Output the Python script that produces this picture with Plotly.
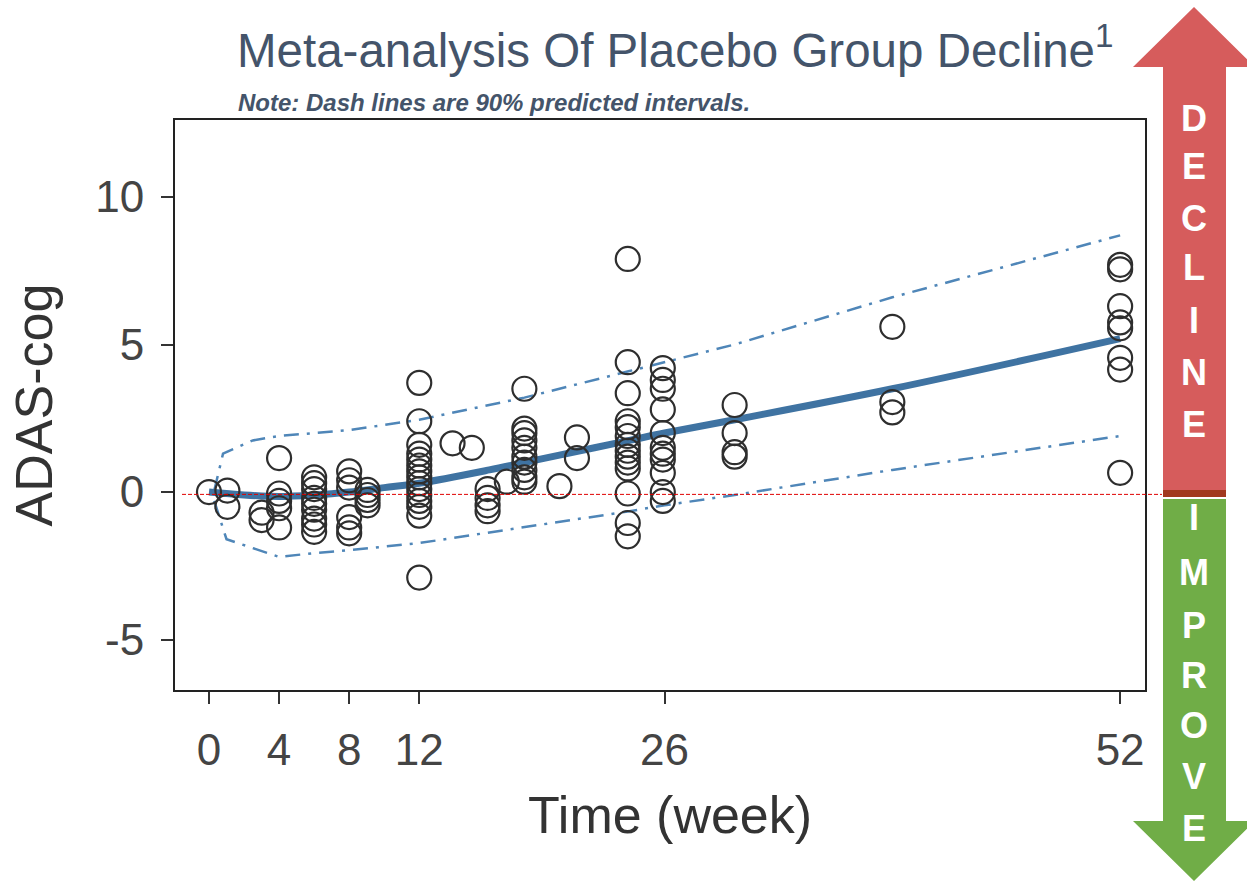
import plotly.graph_objects as go

# ---------------- data ----------------
pt_week = ([0] + [1.05] * 2 + [3] * 2 + [4] * 5 + [6] * 9 + [8] * 6 + [9.05] * 4 +
           [12] * 15 + [13.9, 15.0] + [15.9] * 4 + [17.0] + [18] * 10 + [20.0] +
           [21.0] * 2 + [23.9] * 14 + [25.9] * 11 + [30.0] * 4 + [39.0] * 3 + [52] * 8)
pt_val = ([0.0] +
          [0.05, -0.5] +
          [-0.7, -0.95] +
          [1.15, -0.05, -0.3, -0.55, -1.2] +
          [0.5, 0.3, 0.1, -0.2, -0.4, -0.6, -0.9, -1.1, -1.35] +
          [0.7, 0.4, 0.15, -0.85, -1.2, -1.4] +
          [0.07, -0.1, -0.27, -0.45] +
          [3.7, 2.4, 1.6, 1.3, 1.1, 0.9, 0.7, 0.5, 0.3, 0.1, -0.1, -0.3, -0.5, -0.8, -2.9] +
          [1.65, 1.5] +
          [0.1, -0.2, -0.45, -0.65] +
          [0.35] +
          [3.5, 2.15, 2.0, 1.75, 1.5, 1.2, 1.0, 0.75, 0.5, 0.35] +
          [0.2] +
          [1.85, 1.15] +
          [7.9, 4.4, 3.35, 2.4, 2.2, 1.9, 1.6, 1.4, 1.2, 1.0, 0.8, -0.05, -1.05, -1.5] +
          [4.2, 3.8, 3.5, 2.8, 2.0, 1.5, 1.3, 1.1, 0.65, 0.0, -0.3] +
          [2.95, 2.0, 1.35, 1.2] +
          [5.6, 3.05, 2.7] +
          [7.7, 7.55, 6.3, 5.75, 5.55, 4.55, 4.15, 0.65])

mean_week = [0, 2, 4, 6, 8, 10, 12, 16, 18, 20, 24, 26, 30, 39, 52]
mean_val = [0.0, -0.1, -0.15, -0.1, 0.0, 0.15, 0.3, 0.75, 1.0, 1.25, 1.75, 2.0, 2.45, 3.5, 5.2]

upper_week = [0.3, 0.8, 2.5, 4, 6, 8, 12, 18, 24, 26, 30, 39, 52]
upper_val = [0.05, 1.3, 1.75, 1.9, 2.0, 2.1, 2.45, 3.2, 4.1, 4.4, 5.0, 6.6, 8.7]

lower_week = [0.3, 1, 2.5, 4, 6, 8, 12, 18, 24, 26, 30, 39, 52]
lower_val = [-0.3, -1.6, -1.9, -2.2, -2.07, -1.97, -1.73, -1.2, -0.65, -0.45, -0.1, 0.75, 1.9]

x_ticks = [0, 4, 8, 12, 26, 52]
y_ticks = [-5, 0, 5, 10]
y_tick_text = ["-5", "0", "5", "10"]
baseline_val = -0.08

decline_letters = list("DECLINE")
improve_letters = list("IMPROVE")

# ---------------- layout geometry ----------------
W, H = 1247, 882
ML, MR, MT, MB = 175, 102, 120, 192
PW, PH = W - ML - MR, H - MT - MB


def px(p):
    return (p - ML) / PW


def py(p):
    return 1 - (p - MT) / PH


fig = go.Figure()

fig.add_trace(go.Scatter(x=upper_week, y=upper_val, mode="lines",
                         line=dict(color="#4f86b8", width=2.5, dash="15px,8px,3px,8px"),
                         showlegend=False))
fig.add_trace(go.Scatter(x=lower_week, y=lower_val, mode="lines",
                         line=dict(color="#4f86b8", width=2.5, dash="15px,8px,3px,8px"),
                         showlegend=False))
fig.add_trace(go.Scatter(x=mean_week, y=mean_val, mode="lines", line_shape="spline",
                         line=dict(color="#3f73a2", width=7), showlegend=False))
fig.add_trace(go.Scatter(x=pt_week, y=pt_val, mode="markers",
                         marker=dict(symbol="circle-open", size=24, color="#2e2e2e",
                                     line=dict(width=2.2, color="#2e2e2e")),
                         showlegend=False))

axis_common = dict(showline=True, linecolor="#222", linewidth=2, mirror=True,
                   ticks="outside", ticklen=12, tickwidth=2, tickcolor="#333",
                   showgrid=False, zeroline=False, ticklabelstandoff=8,
                   tickfont=dict(family="Liberation Sans, Arial", size=44, color="#444"))

fig.update_xaxes(range=[-1.94, 53.42], tickvals=x_ticks, **axis_common)
fig.update_yaxes(range=[-6.71, 12.61], tickvals=y_ticks, ticktext=y_tick_text, **axis_common,
                 title=dict(text="ADAS-cog", standoff=26,
                            font=dict(family="Liberation Sans, Arial", size=52, color="#333")))

shapes = []
# red baseline
shapes.append(dict(type="line", xref="paper", yref="y", x0=px(182), x1=px(1162),
                   y0=baseline_val, y1=baseline_val,
                   line=dict(color="#e00000", width=1, dash="4px,2px")))


def path(points):
    s = "M " + " L ".join(f"{px(a):.5f},{py(b):.5f}" for a, b in points) + " Z"
    return s


red_pts = [(1163, 491), (1163, 67), (1133, 67), (1194, 7), (1255, 67), (1226, 67), (1226, 491)]
green_pts = [(1163, 499), (1163, 821), (1133, 821), (1194, 881), (1255, 821), (1226, 821), (1226, 499)]
shapes.append(dict(type="path", xref="paper", yref="paper", path=path(red_pts),
                   fillcolor="#d65c5c", line=dict(width=0), layer="above"))
shapes.append(dict(type="path", xref="paper", yref="paper", path=path(green_pts),
                   fillcolor="#70ad47", line=dict(width=0), layer="above"))
shapes.append(dict(type="rect", xref="paper", yref="paper", x0=px(1163), x1=px(1226),
                   y0=py(497), y1=py(490), fillcolor="#a2391f", line=dict(width=0),
                   layer="above"))

ann = []
ann.append(dict(xref="paper", yref="paper", x=px(235), y=py(47), xanchor="left",
                yanchor="middle", showarrow=False,
                text="Meta-analysis Of Placebo Group Decline<sup>1</sup>",
                font=dict(family="Liberation Sans, Arial", size=47.5, color="#44546a")))
ann.append(dict(xref="paper", yref="paper", x=px(236), y=py(103), xanchor="left",
                yanchor="middle", showarrow=False,
                text="<b><i>Note: Dash lines are 90% predicted intervals.</i></b>",
                font=dict(family="Liberation Sans, Arial", size=24, color="#44546a")))
ann.append(dict(xref="paper", yref="paper", x=px(670), y=py(815), xanchor="center",
                yanchor="middle", showarrow=False, text="Time (week)",
                font=dict(family="Liberation Sans, Arial", size=52, color="#333")))

dec_y = [118, 166, 218, 268, 320, 372, 424]
imp_y = [517, 572, 625, 675, 725, 776, 828]
for ch, yy in zip(decline_letters, dec_y):
    ann.append(dict(xref="paper", yref="paper", x=px(1194), y=py(yy), showarrow=False,
                    text=f"<b>{ch}</b>", xanchor="center", yanchor="middle",
                    font=dict(family="Liberation Sans, Arial", size=36, color="white")))
for ch, yy in zip(improve_letters, imp_y):
    ann.append(dict(xref="paper", yref="paper", x=px(1194), y=py(yy), showarrow=False,
                    text=f"<b>{ch}</b>", xanchor="center", yanchor="middle",
                    font=dict(family="Liberation Sans, Arial", size=36, color="white")))

fig.update_layout(width=W, height=H, margin=dict(l=ML, r=MR, t=MT, b=MB),
                  paper_bgcolor="white", plot_bgcolor="white",
                  shapes=shapes, annotations=ann, showlegend=False)

fig.write_html("out.html", config={"displayModeBar": False},
               post_script="document.body.style.margin='0';")
